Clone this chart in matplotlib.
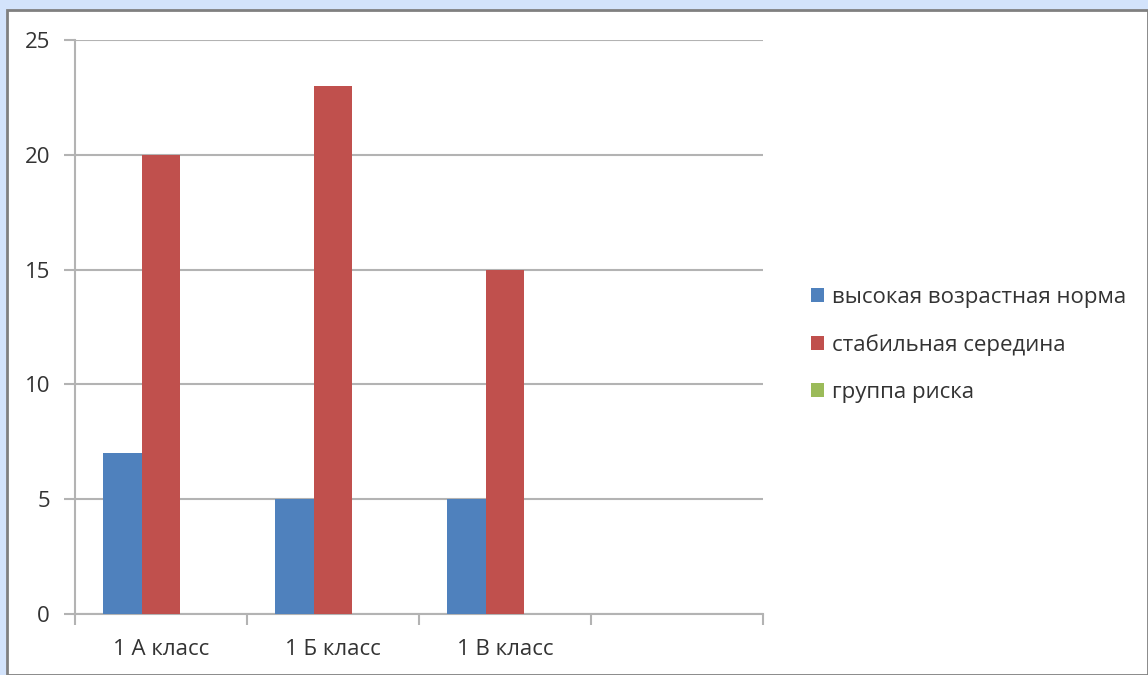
import matplotlib.pyplot as plt
import matplotlib.patches as mpatches
import numpy as np

plt.rcParams['font.family'] = ['Open Sans', 'DejaVu Sans']

categories = ['1 А класс', '1 Б класс', '1 В класс', '']
series_names = ['высокая возрастная норма', 'стабильная середина', 'группа риска']
high_norm = [7, 5, 5, 0]
stable_mid = [20, 23, 15, 0]
risk_group = [0, 0, 0, 0]
colors = ['#4f81bd', '#c0504d', '#9bbb59']

fig = plt.figure(figsize=(11.48, 6.75), dpi=100)
fig.patch.set_facecolor('#d3e3fb')
# white slide panel with grey border
panel = mpatches.Rectangle((7 / 1148, 0), 1 - 7 / 1148, 1 - 10 / 675,
                           transform=fig.transFigure, facecolor='white',
                           edgecolor='#808080', linewidth=2, zorder=-10)
fig.add_artist(panel)

ax = fig.add_axes([75 / 1148, 1 - 614 / 675, (763 - 75) / 1148, (614 - 40) / 675])
ax.set_zorder(5)
ax.set_facecolor('none')

x = np.arange(len(categories))
w = 0.225
for i, (vals, name) in enumerate(zip([high_norm, stable_mid, risk_group], series_names)):
    ax.bar(x + (i - 1) * w, vals, width=w, color=colors[i], label=name, zorder=3)

ax.set_xlim(-0.5, len(categories) - 0.5)
ax.set_ylim(0, 25)
ax.set_yticks([0, 5, 10, 15, 20, 25])
ax.yaxis.grid(True, color='#b3b3b3', linewidth=1.5, zorder=0)

ax.set_xticks(x)
ax.set_xticklabels(categories)
ax.set_xticks(np.arange(len(categories) + 1) - 0.5, minor=True)
ax.tick_params(axis='x', which='major', length=0, pad=18, labelsize=16, colors='#333333')
ax.tick_params(axis='x', which='minor', length=8, width=1.5, color='#b3b3b3')
ax.tick_params(axis='y', length=8, width=1.5, color='#b3b3b3', pad=10, labelsize=16, labelcolor='#333333')

for side in ['top', 'right']:
    ax.spines[side].set_visible(False)
for side in ['left', 'bottom']:
    ax.spines[side].set_color('#b3b3b3')
    ax.spines[side].set_linewidth(1.5)

ax.legend(loc='center left', bbox_to_anchor=(1.04, 0.469), frameon=False,
          fontsize=16, handlelength=0.6, handleheight=0.6, handletextpad=0.35,
          labelspacing=1.18, labelcolor='#333333')

fig.savefig('out.png', dpi=100)
